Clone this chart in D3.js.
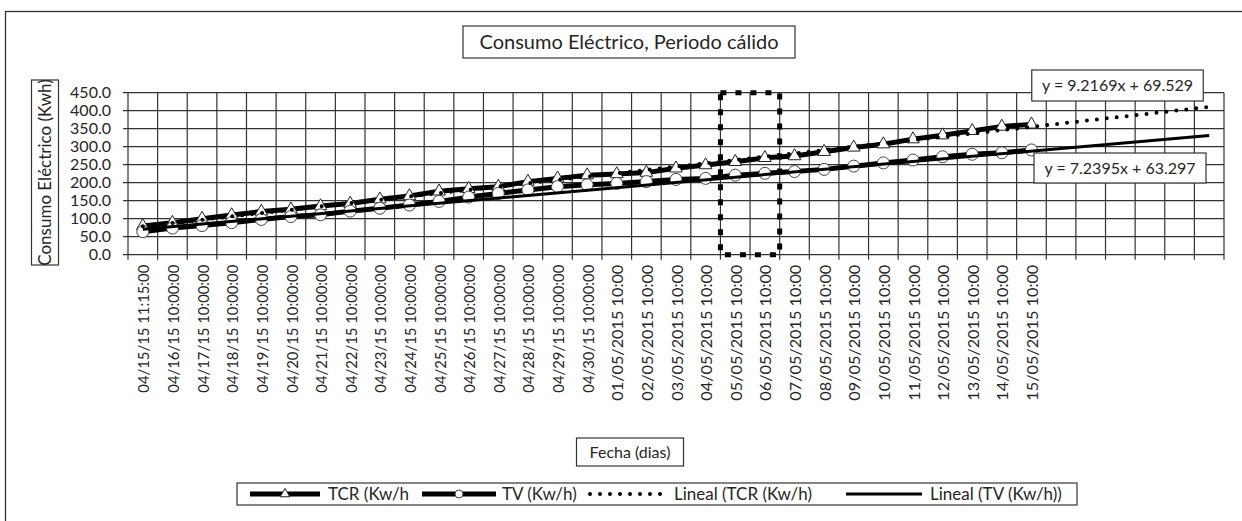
<!DOCTYPE html>
<html><head><meta charset="utf-8">
<script src="https://cdn.jsdelivr.net/npm/d3@7"></script>
<style>
body{margin:0;background:#fff;}
svg{display:block;}
text{font-family:Lato,"Open Sans",sans-serif;fill:#262626;}
</style></head>
<body><svg id="chart" width="1242" height="521"></svg>
<script>
// ---------- data ----------
const categories = [
  "04/15/15 11:15:00","04/16/15 10:00:00","04/17/15 10:00:00","04/18/15 10:00:00",
  "04/19/15 10:00:00","04/20/15 10:00:00","04/21/15 10:00:00","04/22/15 10:00:00",
  "04/23/15 10:00:00","04/24/15 10:00:00","04/25/15 10:00:00","04/26/15 10:00:00",
  "04/27/15 10:00:00","04/28/15 10:00:00","04/29/15 10:00:00","04/30/15 10:00:00",
  "01/05/2015 10:00","02/05/2015 10:00","03/05/2015 10:00","04/05/2015 10:00",
  "05/05/2015 10:00","06/05/2015 10:00","07/05/2015 10:00","08/05/2015 10:00",
  "09/05/2015 10:00","10/05/2015 10:00","11/05/2015 10:00","12/05/2015 10:00",
  "13/05/2015 10:00","14/05/2015 10:00","15/05/2015 10:00"
];
const tcrValues = [80, 89, 100, 110, 120, 126, 135, 142, 154, 163, 176, 183, 189, 203, 212,
                   221, 224, 228, 240, 249, 258, 269, 274, 286, 298, 307, 321, 332, 344, 356, 362];
const tvValues  = [64, 74, 81, 89, 98, 106, 111, 121, 129, 138, 148, 160, 170, 180, 189,
                   194, 198, 203, 209, 212, 221, 226, 231, 237, 246, 255, 263, 272, 279, 283, 291];
const seriesNames = ["TCR (Kw/h", "TV (Kw/h)", "Lineal (TCR (Kw/h)", "Lineal (TV (Kw/h))"];
const yTicks = [0, 50, 100, 150, 200, 250, 300, 350, 400, 450];
const forecastForward = 6;
const trendTCR = {slope: 9.2169, intercept: 69.529, label: "y = 9.2169x + 69.529"};
const trendTV  = {slope: 7.2395, intercept: 63.297, label: "y = 7.2395x + 63.297"};
const highlighted = ["05/05/2015 10:00", "06/05/2015 10:00"];
const titleText = "Consumo Eléctrico, Periodo cálido";
const yTitle = "Consumo Eléctrico (Kwh)";
const xTitle = "Fecha (dias)";

// ---------- layout ----------
const svg = d3.select("#chart");
const plot = {left: 128, right: 1224, top: 92.7, bottom: 254.7};

svg.append("rect").attr("x", 5.5).attr("y", 11.5).attr("width", 1260).attr("height", 520)
  .attr("fill", "#fff").attr("stroke", "#333").attr("stroke-width", 1.3);

const domain = categories.concat(d3.range(forecastForward).map(i => "__f" + i));
const x = d3.scaleBand().domain(domain).range([plot.left, plot.right]).padding(0);
const y = d3.scaleLinear().domain([0, 450]).range([plot.bottom, plot.top]);
const cx = c => x(c) + x.bandwidth() / 2;
const xIdx = k => x(domain[k - 1]) + x.bandwidth() / 2;

const gridG = svg.append("g");
gridG.selectAll("line.h").data(yTicks).join("line")
  .attr("x1", plot.left - 5).attr("x2", plot.right)
  .attr("y1", d => y(d)).attr("y2", d => y(d))
  .attr("stroke", "#333").attr("stroke-width", 1.2);
const bounds = domain.map(d => x(d)).concat([plot.right]);
gridG.selectAll("line.v").data(bounds).join("line")
  .attr("x1", d => d).attr("x2", d => d)
  .attr("y1", plot.top).attr("y2", plot.bottom + 5)
  .attr("stroke", "#333").attr("stroke-width", 1.2);

const yAxis = d3.axisLeft(y).tickValues(yTicks).tickFormat(d3.format(".1f")).tickSize(0).tickPadding(17);
const yg = svg.append("g").attr("transform", `translate(${plot.left},0)`).call(yAxis);
yg.select(".domain").remove();
yg.selectAll("text").style("font-size", "16px").attr("fill", "#262626");

const xg = svg.append("g");
xg.selectAll("text").data(categories).join("text")
  .attr("transform", d => `translate(${cx(d) + 1},${plot.bottom + 10}) rotate(-90)`)
  .attr("text-anchor", "end").attr("dy", "0.36em")
  .attr("textLength", d => d.length === 17 ? 128 : 136)
  .attr("lengthAdjust", "spacingAndGlyphs")
  .style("font-size", "15.5px").text(d => d);

const line = d3.line().x((d, i) => cx(categories[i])).y(d => y(d));
svg.append("path").datum(tcrValues).attr("d", line).attr("fill", "none")
  .attr("stroke", "#000").attr("stroke-width", 5).attr("stroke-linejoin", "round");
svg.append("g").selectAll("path").data(tcrValues).join("path")
  .attr("d", d3.symbol(d3.symbolTriangle, 70))
  .attr("transform", (d, i) => `translate(${cx(categories[i])},${y(d)})`)
  .attr("fill", "#fff").attr("stroke", "#222").attr("stroke-width", 1);
svg.append("path").datum(tvValues).attr("d", line).attr("fill", "none")
  .attr("stroke", "#000").attr("stroke-width", 5).attr("stroke-linejoin", "round");
svg.append("g").selectAll("circle").data(tvValues).join("circle")
  .attr("cx", (d, i) => cx(categories[i])).attr("cy", d => y(d)).attr("r", 6)
  .attr("fill", "#fff").attr("stroke", "#444").attr("stroke-width", 1);

const lastX = categories.length + forecastForward;
function trendPts(t) { return [1, lastX].map(k => [xIdx(k), y(t.slope * k + t.intercept)]); }
svg.append("path").attr("d", d3.line()(trendPts(trendTCR))).attr("fill", "none")
  .attr("stroke", "#000").attr("stroke-width", 4).attr("stroke-linecap", "round")
  .attr("stroke-dasharray", "0 10");
svg.append("path").attr("d", d3.line()(trendPts(trendTV))).attr("fill", "none")
  .attr("stroke", "#000").attr("stroke-width", 3);

const hx0 = x(highlighted[0]), hx1 = x(highlighted[1]) + x.bandwidth();
svg.append("rect").attr("x", hx0).attr("y", plot.top).attr("width", hx1 - hx0)
  .attr("height", plot.bottom - plot.top).attr("fill", "none")
  .attr("stroke", "#000").attr("stroke-width", 5).attr("stroke-dasharray", "6 9");

function boxed(cxp, cyp, w, h, txt, size, rot) {
  const g = svg.append("g").attr("transform", `translate(${cxp},${cyp})` + (rot ? ` rotate(${rot})` : ""));
  g.append("rect").attr("x", -w / 2).attr("y", -h / 2).attr("width", w).attr("height", h)
    .attr("fill", "#fff").attr("stroke", "#333").attr("stroke-width", 1.2);
  g.append("text").attr("text-anchor", "middle").attr("dy", "0.35em")
    .style("font-size", size + "px").text(txt);
  return g;
}
boxed(629, 42, 332, 32, titleText, 20);
boxed(45, 172.5, 185, 27, yTitle, 17, -90);
boxed(630, 452, 107, 28, xTitle, 16);
boxed(1117.5, 85.5, 171.5, 31, trendTCR.label, 16);
boxed(1120, 168, 172, 30, trendTV.label, 16);

// legend
const lg = svg.append("g");
lg.append("rect").attr("x", 237).attr("y", 483).attr("width", 840).attr("height", 22)
  .attr("fill", "#fff").attr("stroke", "#333").attr("stroke-width", 1.2);
const ly = 494;
const items = [
  {x0: 250, x1: 320, tx: 328, kind: "tri"},
  {x0: 422, x1: 496, tx: 502, kind: "circ"},
  {x0: 590, x1: 662, tx: 674, kind: "dot"},
  {x0: 846, x1: 922, tx: 930, kind: "solid"}
];
items.forEach((it, i) => {
  const p = lg.append("line").attr("x1", it.x0).attr("x2", it.x1).attr("y1", ly).attr("y2", ly)
    .attr("stroke", "#000");
  if (it.kind === "dot") p.attr("stroke-width", 4).attr("stroke-linecap", "round").attr("stroke-dasharray", "0 10");
  else if (it.kind === "solid") p.attr("stroke-width", 3);
  else p.attr("stroke-width", 5);
  const m = (it.x0 + it.x1) / 2;
  if (it.kind === "tri") lg.append("path").attr("d", d3.symbol(d3.symbolTriangle, 40))
    .attr("transform", `translate(${m},${ly})`).attr("fill", "#fff").attr("stroke", "#222");
  if (it.kind === "circ") lg.append("circle").attr("cx", m).attr("cy", ly).attr("r", 4)
    .attr("fill", "#fff").attr("stroke", "#444");
  lg.append("text").attr("x", it.tx).attr("y", ly).attr("dy", "0.35em")
    .style("font-size", "17px").text(seriesNames[i]);
});
</script></body></html>
